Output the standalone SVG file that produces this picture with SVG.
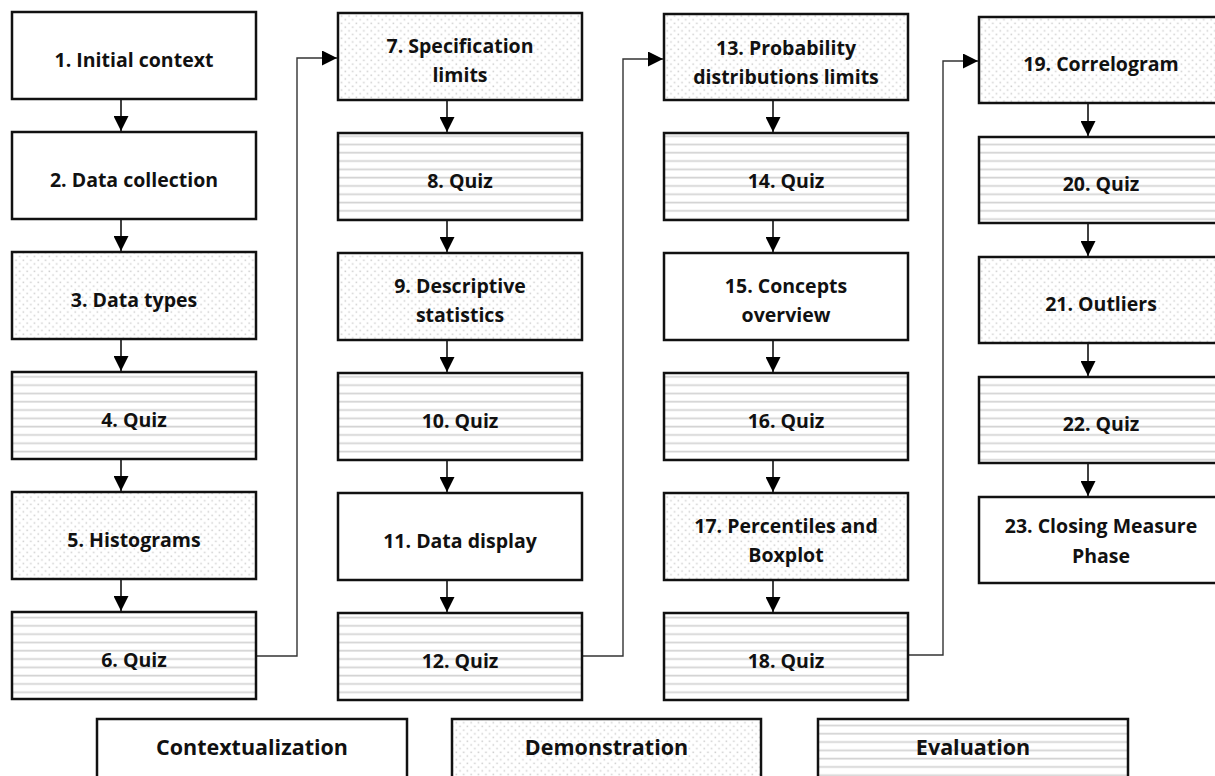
<svg xmlns="http://www.w3.org/2000/svg" width="1215" height="776" viewBox="0 0 1215 776">
<defs>
  <pattern id="dots" width="7.4" height="7.4" patternUnits="userSpaceOnUse">
    <rect width="7.4" height="7.4" fill="#fff"/>
    <rect x="0.5" y="0.5" width="1.5" height="1.5" fill="#cfcfcf"/>
    <rect x="4.2" y="4.2" width="1.5" height="1.5" fill="#cfcfcf"/>
  </pattern>
  <pattern id="lines" width="10" height="8.3" patternUnits="userSpaceOnUse">
    <rect width="10" height="8.3" fill="#fff"/>
    <rect x="0" y="2.5" width="10" height="1.7" fill="#d3d3d3"/>
  </pattern>
  <marker id="arr" markerUnits="userSpaceOnUse" markerWidth="15" markerHeight="15" refX="15" refY="7.5" orient="auto">
    <path d="M0,0 L15,7.5 L0,15 Z" fill="#000"/>
  </marker>
  <style>
    .box{stroke:#111;stroke-width:2.5}
    .plain{fill:#fff}
    .demo{fill:url(#dots)}
    .eval{fill:url(#lines)}
    text{font-family:"Open Sans","Liberation Sans",sans-serif;font-weight:700;font-size:19.5px;fill:#111;text-anchor:middle}
    text.leg{font-size:21.5px}
    .c{fill:none;stroke:#000;stroke-width:1.5}
    .lc{fill:none;stroke:#333;stroke-width:1.4}
  </style>
</defs>
<rect width="1215" height="776" fill="#fff"/>

<g id="connectors">
  <line class="c" x1="121" y1="99" x2="121" y2="131" marker-end="url(#arr)"/>
  <line class="c" x1="121" y1="219" x2="121" y2="251" marker-end="url(#arr)"/>
  <line class="c" x1="121" y1="339" x2="121" y2="371" marker-end="url(#arr)"/>
  <line class="c" x1="121" y1="459" x2="121" y2="491" marker-end="url(#arr)"/>
  <line class="c" x1="121" y1="579" x2="121" y2="611" marker-end="url(#arr)"/>

  <line class="c" x1="447" y1="100" x2="447" y2="132" marker-end="url(#arr)"/>
  <line class="c" x1="447" y1="220" x2="447" y2="252" marker-end="url(#arr)"/>
  <line class="c" x1="447" y1="340" x2="447" y2="372" marker-end="url(#arr)"/>
  <line class="c" x1="447" y1="460" x2="447" y2="492" marker-end="url(#arr)"/>
  <line class="c" x1="447" y1="580" x2="447" y2="612" marker-end="url(#arr)"/>

  <line class="c" x1="773" y1="100" x2="773" y2="132" marker-end="url(#arr)"/>
  <line class="c" x1="773" y1="220" x2="773" y2="252" marker-end="url(#arr)"/>
  <line class="c" x1="773" y1="340" x2="773" y2="372" marker-end="url(#arr)"/>
  <line class="c" x1="773" y1="460" x2="773" y2="492" marker-end="url(#arr)"/>
  <line class="c" x1="773" y1="580" x2="773" y2="612" marker-end="url(#arr)"/>

  <line class="c" x1="1088" y1="103" x2="1088" y2="136" marker-end="url(#arr)"/>
  <line class="c" x1="1088" y1="223" x2="1088" y2="256" marker-end="url(#arr)"/>
  <line class="c" x1="1088" y1="343" x2="1088" y2="376" marker-end="url(#arr)"/>
  <line class="c" x1="1088" y1="463" x2="1088" y2="496" marker-end="url(#arr)"/>

  <polyline class="lc" points="257,656 297,656 297,58 337,58" marker-end="url(#arr)"/>
  <polyline class="lc" points="583,656 623,656 623,59 663,59" marker-end="url(#arr)"/>
  <polyline class="lc" points="909,655 943,655 943,61 978,61" marker-end="url(#arr)"/>
</g>

<g id="n1"><rect class="box plain" x="12" y="12" width="244" height="87"/><text x="134" y="66.5">1. Initial context</text></g>
<g id="n2"><rect class="box plain" x="12" y="132" width="244" height="87"/><text x="134" y="186.5">2. Data collection</text></g>
<g id="n3"><rect class="box demo" x="12" y="252" width="244" height="87"/><text x="134" y="306.5">3. Data types</text></g>
<g id="n4"><rect class="box eval" x="12" y="372" width="244" height="87"/><text x="134" y="426.5">4. Quiz</text></g>
<g id="n5"><rect class="box demo" x="12" y="492" width="244" height="87"/><text x="134" y="546.5">5. Histograms</text></g>
<g id="n6"><rect class="box eval" x="12" y="612" width="244" height="87"/><text x="134" y="666.5">6. Quiz</text></g>

<g id="n7"><rect class="box demo" x="338" y="13" width="244" height="87"/><text x="460" y="53">7. Specification</text><text x="460" y="82">limits</text></g>
<g id="n8"><rect class="box eval" x="338" y="133" width="244" height="87"/><text x="460" y="187.5">8. Quiz</text></g>
<g id="n9"><rect class="box demo" x="338" y="253" width="244" height="87"/><text x="460" y="293">9. Descriptive</text><text x="460" y="322">statistics</text></g>
<g id="n10"><rect class="box eval" x="338" y="373" width="244" height="87"/><text x="460" y="427.5">10. Quiz</text></g>
<g id="n11"><rect class="box plain" x="338" y="493" width="244" height="87"/><text x="460" y="547.5">11. Data display</text></g>
<g id="n12"><rect class="box eval" x="338" y="613" width="244" height="87"/><text x="460" y="667.5">12. Quiz</text></g>

<g id="n13"><rect class="box demo" x="664" y="14" width="244" height="86"/><text x="786" y="54.5">13. Probability</text><text x="786" y="83.5">distributions limits</text></g>
<g id="n14"><rect class="box eval" x="664" y="133" width="244" height="87"/><text x="786" y="187.5">14. Quiz</text></g>
<g id="n15"><rect class="box plain" x="664" y="253" width="244" height="87"/><text x="786" y="293">15. Concepts</text><text x="786" y="322">overview</text></g>
<g id="n16"><rect class="box eval" x="664" y="373" width="244" height="87"/><text x="786" y="427.5">16. Quiz</text></g>
<g id="n17"><rect class="box demo" x="664" y="493" width="244" height="87"/><text x="786" y="533">17. Percentiles and</text><text x="786" y="562">Boxplot</text></g>
<g id="n18"><rect class="box eval" x="664" y="613" width="244" height="87"/><text x="786" y="667.5">18. Quiz</text></g>

<g id="n19"><rect class="box demo" x="979" y="17" width="244" height="86"/><text x="1101" y="71">19. Correlogram</text></g>
<g id="n20"><rect class="box eval" x="979" y="137" width="244" height="86"/><text x="1101" y="191">20. Quiz</text></g>
<g id="n21"><rect class="box demo" x="979" y="257" width="244" height="86"/><text x="1101" y="311">21. Outliers</text></g>
<g id="n22"><rect class="box eval" x="979" y="377" width="244" height="86"/><text x="1101" y="431">22. Quiz</text></g>
<g id="n23"><rect class="box plain" x="979" y="497" width="244" height="86"/><text x="1101" y="533">23. Closing Measure</text><text x="1101" y="563">Phase</text></g>

<g id="legend-contextualization"><rect class="box plain" x="97" y="719" width="310" height="86"/><text class="leg" x="252" y="755">Contextualization</text></g>
<g id="legend-demonstration"><rect class="box demo" x="452" y="719" width="309" height="86"/><text class="leg" x="606.5" y="755">Demonstration</text></g>
<g id="legend-evaluation"><rect class="box eval" x="818" y="719" width="310" height="86"/><text class="leg" x="973" y="755">Evaluation</text></g>
</svg>
